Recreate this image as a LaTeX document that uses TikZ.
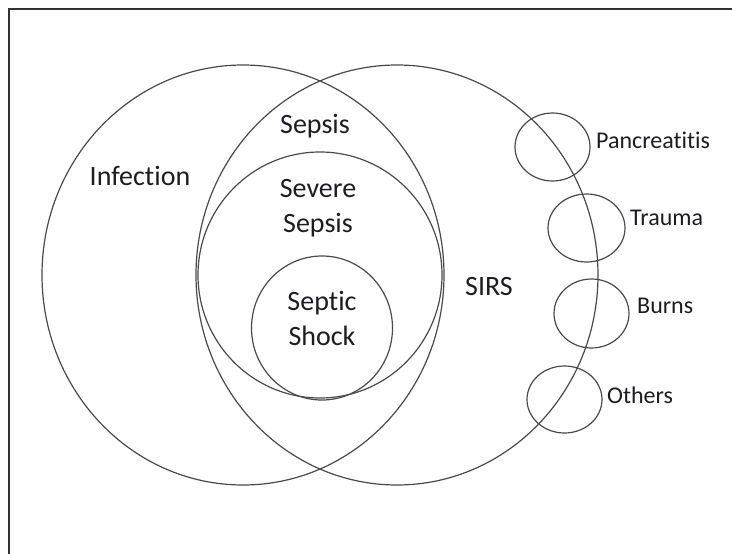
\documentclass[tikz,border=0pt]{standalone}
\usepackage{fontspec}
\setmainfont[Ligatures=NoCommon]{Carlito}
\usetikzlibrary{shapes.geometric}
\definecolor{ringgray}{HTML}{4A4A4A}
\definecolor{inkblack}{HTML}{1C1C24}

\begin{document}
\begin{tikzpicture}[x=1pt,y=-1pt,every node/.style={inner sep=0pt,align=center,text=inkblack},
    ring/.style={draw=ringgray,line width=1.2pt,shape=ellipse},
    biglabel/.style={font=\fontsize{28}{35}\selectfont,anchor=base},
    smalllabel/.style={font=\fontsize{24}{28}\selectfont,anchor=base west}]
  \useasboundingbox (0,0) rectangle (732,554);
  \draw[line width=2pt,draw=black!80] (9,554) -- (9,9) -- (732,9);
  \node[ring,minimum width=402pt,minimum height=420pt] (infection) at (243,275) {};
  \node[ring,minimum width=402pt,minimum height=420pt] (sirs) at (397,275) {};
  \node[ring,minimum width=244pt,minimum height=246pt] (severe) at (320,275) {};
  \node[ring,minimum width=141pt,minimum height=144pt] (shock) at (322,328) {};
  \node[ring,minimum width=75pt,minimum height=68pt] (panc) at (552.5,147) {};
  \node[ring,minimum width=77pt,minimum height=68pt] (trauma) at (586.5,228) {};
  \node[ring,minimum width=75pt,minimum height=69pt] (burns) at (591.5,313.5) {};
  \node[ring,minimum width=75pt,minimum height=67pt] (others) at (564.5,399.5) {};
  \node[biglabel] (infectiontext) at (140,185) {Infection};
  \node[biglabel] (sepsistext) at (315,133) {Sepsis};
  \node[biglabel] (severetext) at (318,232) {Severe\\Sepsis};
  \node[biglabel] (shocktext) at (322,345) {Septic\\Shock};
  \node[biglabel] (sirstext) at (489,295) {SIRS};
  \node[smalllabel] (panctext) at (596,148) {Pancreatitis};
  \node[smalllabel] (traumatext) at (630,225) {Trauma};
  \node[smalllabel] (burnstext) at (637,313) {Burns};
  \node[smalllabel] (otherstext) at (607,403) {Others};
\end{tikzpicture}
\end{document}
